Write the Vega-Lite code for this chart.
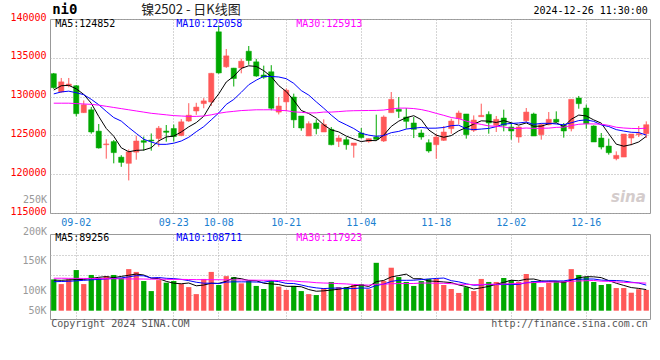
{
  "$schema": "https://vega.github.io/schema/vega-lite/v6.json",
  "autosize": {"type": "none"},
  "padding": {"left": 50, "top": 19, "right": 610, "bottom": 341},
  "background": "white",
  "spacing": 21,
  "bounds": "flush",
  "config": {
    "view": {"stroke": "#999", "strokeWidth": 1},
    "axis": {"labelFont": "DejaVu Sans Mono", "labelFontSize": 10, "tickSize": 0, "domain": false, "ticks": false, "labelOverlap": false}
  },
  "datasets": {
    "k": [
      {"d":"08-28","o":132950,"h":133050,"l":131000,"c":131150,"v":134000,"m5":130850,"m10":130350,"m30":129150,"vm5":131000,"vm10":124000,"vm30":139000},
      {"d":"08-29","o":130600,"h":132400,"l":130500,"c":131900,"v":114000,"m5":131400,"m10":130600,"m30":129150,"vm5":130000,"vm10":125000,"vm30":139000},
      {"d":"08-30","o":131400,"h":132400,"l":131200,"c":131620,"v":134000,"m5":131450,"m10":130700,"m30":129150,"vm5":132000,"vm10":126000,"vm30":138500},
      {"d":"09-02","o":131400,"h":131500,"l":127450,"c":127800,"v":174000,"m5":131000,"m10":130500,"m30":129100,"vm5":133000,"vm10":128000,"vm30":138500},
      {"d":"09-03","o":127930,"h":129500,"l":127900,"c":128950,"v":114000,"m5":130284,"m10":130250,"m30":129050,"vm5":134000,"vm10":130000,"vm30":138000},
      {"d":"09-04","o":128300,"h":128660,"l":125220,"c":125440,"v":153000,"m5":129142,"m10":129650,"m30":129000,"vm5":137800,"vm10":132000,"vm30":138000},
      {"d":"09-05","o":125550,"h":126470,"l":123300,"c":123380,"v":140000,"m5":127438,"m10":128950,"m30":128900,"vm5":143000,"vm10":134000,"vm30":137500},
      {"d":"09-06","o":123800,"h":124500,"l":122000,"c":123900,"v":148000,"m5":125894,"m10":128100,"m30":128750,"vm5":145800,"vm10":136000,"vm30":137000},
      {"d":"09-09","o":124200,"h":124400,"l":121400,"c":122780,"v":153000,"m5":124890,"m10":127300,"m30":128600,"vm5":141600,"vm10":138000,"vm30":137000},
      {"d":"09-10","o":122200,"h":122450,"l":120950,"c":121520,"v":140000,"m5":123404,"m10":126844,"m30":128450,"vm5":146800,"vm10":140400,"vm30":136500},
      {"d":"09-11","o":121400,"h":123200,"l":119200,"c":122880,"v":178000,"m5":122892,"m10":126017,"m30":128300,"vm5":151800,"vm10":144800,"vm30":136000},
      {"d":"09-12","o":122840,"h":124950,"l":121870,"c":124280,"v":166000,"m5":123072,"m10":125255,"m30":128150,"vm5":157000,"vm10":150000,"vm30":136000},
      {"d":"09-13","o":124320,"h":124850,"l":123030,"c":124110,"v":127000,"m5":123114,"m10":124504,"m30":128000,"vm5":152800,"vm10":149300,"vm30":135500},
      {"d":"09-18","o":124400,"h":125250,"l":123030,"c":124280,"v":84000,"m5":123414,"m10":124152,"m30":127850,"vm5":139000,"vm10":140300,"vm30":135000},
      {"d":"09-19","o":124600,"h":126210,"l":123550,"c":125930,"v":131000,"m5":124296,"m10":123850,"m30":127750,"vm5":137200,"vm10":142000,"vm30":135000},
      {"d":"09-20","o":125560,"h":126340,"l":124190,"c":125400,"v":120000,"m5":124800,"m10":123846,"m30":127650,"vm5":125600,"vm10":138700,"vm30":134500},
      {"d":"09-23","o":125890,"h":126400,"l":124200,"c":124850,"v":127000,"m5":124914,"m10":123993,"m30":127550,"vm5":117800,"vm10":137400,"vm30":134000},
      {"d":"09-24","o":124980,"h":127100,"l":124900,"c":126750,"v":114000,"m5":125442,"m10":124278,"m30":127500,"vm5":115200,"vm10":134000,"vm30":134000},
      {"d":"09-25","o":126850,"h":129150,"l":126750,"c":127600,"v":101000,"m5":126106,"m10":124760,"m30":127450,"vm5":118600,"vm10":128800,"vm30":133500},
      {"d":"09-26","o":128150,"h":129200,"l":127650,"c":128650,"v":71000,"m5":126650,"m10":125473,"m30":127450,"vm5":106600,"vm10":121900,"vm30":133000},
      {"d":"09-27","o":129100,"h":129800,"l":128500,"c":129450,"v":136000,"m5":127460,"m10":126130,"m30":127500,"vm5":109800,"vm10":117700,"vm30":133000},
      {"d":"09-30","o":129300,"h":133050,"l":128800,"c":133000,"v":166000,"m5":129090,"m10":127002,"m30":127650,"vm5":117600,"vm10":117700,"vm30":132500},
      {"d":"10-08","o":138350,"h":139150,"l":132950,"c":133050,"v":110000,"m5":130350,"m10":127896,"m30":127850,"vm5":116800,"vm10":116000,"vm30":132500},
      {"d":"10-09","o":133840,"h":136130,"l":133700,"c":135250,"v":148000,"m5":131880,"m10":128993,"m30":128000,"vm5":126200,"vm10":122400,"vm30":132000},
      {"d":"10-10","o":133670,"h":133700,"l":131300,"c":132330,"v":144000,"m5":132616,"m10":129633,"m30":128100,"vm5":140800,"vm10":123700,"vm30":132000},
      {"d":"10-11","o":133700,"h":134900,"l":133000,"c":134560,"v":117000,"m5":133638,"m10":130549,"m30":128200,"vm5":137000,"vm10":123400,"vm30":131500},
      {"d":"10-14","o":135850,"h":136520,"l":134100,"c":134650,"v":127000,"m5":133968,"m10":131529,"m30":128250,"vm5":129200,"vm10":123400,"vm30":131000},
      {"d":"10-15","o":134480,"h":134870,"l":132550,"c":132650,"v":106000,"m5":133888,"m10":132119,"m30":128300,"vm5":128400,"vm10":122600,"vm30":130500},
      {"d":"10-16","o":132780,"h":133990,"l":132300,"c":132500,"v":93000,"m5":133338,"m10":132609,"m30":128300,"vm5":117400,"vm10":121800,"vm30":130200},
      {"d":"10-17","o":133200,"h":134050,"l":128230,"c":128500,"v":131000,"m5":132572,"m10":132594,"m30":128304,"vm5":114800,"vm10":127800,"vm30":130000},
      {"d":"10-18","o":128000,"h":129930,"l":127700,"c":128790,"v":103000,"m5":131418,"m10":132528,"m30":128225,"vm5":112000,"vm10":124500,"vm30":129000},
      {"d":"10-21","o":129320,"h":131050,"l":128100,"c":130830,"v":89000,"m5":130654,"m10":132311,"m30":128189,"vm5":104400,"vm10":116800,"vm30":128200},
      {"d":"10-22","o":129950,"h":130380,"l":125950,"c":127000,"v":106000,"m5":129524,"m10":131706,"m30":128035,"vm5":104400,"vm10":116400,"vm30":127200},
      {"d":"10-23","o":127500,"h":127500,"l":125600,"c":125950,"v":84000,"m5":128214,"m10":130776,"m30":127974,"vm5":102600,"vm10":110000,"vm30":124200},
      {"d":"10-24","o":124920,"h":126810,"l":124920,"c":126510,"v":71000,"m5":127816,"m10":130194,"m30":127892,"vm5":90600,"vm10":102700,"vm30":122800},
      {"d":"10-25","o":126600,"h":127070,"l":125140,"c":125870,"v":67000,"m5":127232,"m10":129325,"m30":127907,"vm5":83400,"vm10":97700,"vm30":119900},
      {"d":"10-28","o":125440,"h":127070,"l":125440,"c":126420,"v":97000,"m5":126350,"m10":128502,"m30":128008,"vm5":85000,"vm10":94700,"vm30":118500},
      {"d":"10-29","o":125780,"h":126080,"l":123720,"c":123800,"v":123000,"m5":125710,"m10":127617,"m30":128005,"vm5":88400,"vm10":96400,"vm30":117700},
      {"d":"10-30","o":124230,"h":125010,"l":123500,"c":124660,"v":101000,"m5":125452,"m10":126833,"m30":128067,"vm5":91800,"vm10":97200,"vm30":115900},
      {"d":"10-31","o":124450,"h":124790,"l":123160,"c":123800,"v":101000,"m5":124910,"m10":126363,"m30":128143,"vm5":97800,"vm10":94200,"vm30":114600},
      {"d":"11-01","o":123720,"h":124020,"l":122130,"c":124020,"v":110000,"m5":124540,"m10":125886,"m30":128181,"vm5":106400,"vm10":94900,"vm30":112400},
      {"d":"11-04","o":125310,"h":125950,"l":124580,"c":124710,"v":114000,"m5":124198,"m10":125274,"m30":128196,"vm5":109800,"vm10":97400,"vm30":110600},
      {"d":"11-05","o":124230,"h":124600,"l":124060,"c":124580,"v":92000,"m5":124354,"m10":125032,"m30":128211,"vm5":103600,"vm10":96000,"vm30":109500},
      {"d":"11-06","o":124790,"h":127670,"l":124360,"c":124490,"v":205000,"m5":124320,"m10":124886,"m30":128218,"vm5":124400,"vm10":108100,"vm30":113500},
      {"d":"11-07","o":124280,"h":127580,"l":124150,"c":127370,"v":127000,"m5":125034,"m10":124972,"m30":128266,"vm5":129600,"vm10":113700,"vm30":113400},
      {"d":"11-08","o":127930,"h":130590,"l":127930,"c":129650,"v":184000,"m5":126160,"m10":125350,"m30":128408,"vm5":144400,"vm10":125400,"vm30":115500},
      {"d":"11-11","o":128360,"h":129950,"l":127240,"c":128100,"v":144000,"m5":126838,"m10":125518,"m30":128516,"vm5":150400,"vm10":130100,"vm30":116100},
      {"d":"11-12","o":127370,"h":128530,"l":125870,"c":126810,"v":123000,"m5":127284,"m10":125819,"m30":128518,"vm5":156600,"vm10":130100,"vm30":116400},
      {"d":"11-13","o":126600,"h":127370,"l":124660,"c":125780,"v":106000,"m5":127542,"m10":125931,"m30":128458,"vm5":136800,"vm10":130600,"vm30":116500},
      {"d":"11-14","o":125310,"h":125740,"l":124450,"c":124790,"v":127000,"m5":127026,"m10":126030,"m30":128329,"vm5":136800,"vm10":133200,"vm30":118400},
      {"d":"11-15","o":124060,"h":124490,"l":122770,"c":122990,"v":136000,"m5":125694,"m10":125927,"m30":128114,"vm5":127200,"vm10":135800,"vm30":118400},
      {"d":"11-18","o":123800,"h":125220,"l":122000,"c":124790,"v":136000,"m5":125032,"m10":125935,"m30":127840,"vm5":125600,"vm10":138000,"vm30":117400},
      {"d":"11-19","o":124360,"h":126210,"l":124280,"c":125440,"v":110000,"m5":124758,"m10":126021,"m30":127586,"vm5":123000,"vm10":139800,"vm30":117400},
      {"d":"11-20","o":125870,"h":127160,"l":125220,"c":126850,"v":93000,"m5":124972,"m10":126257,"m30":127306,"vm5":120400,"vm10":128600,"vm30":115600},
      {"d":"11-21","o":127160,"h":128190,"l":126420,"c":127890,"v":76000,"m5":125592,"m10":126309,"m30":127158,"vm5":110200,"vm10":123500,"vm30":113300},
      {"d":"11-22","o":127760,"h":127760,"l":124580,"c":125090,"v":101000,"m5":126012,"m10":125853,"m30":126843,"vm5":103200,"vm10":115200,"vm30":112800},
      {"d":"11-25","o":125650,"h":127580,"l":125440,"c":126980,"v":84000,"m5":126450,"m10":125741,"m30":126587,"vm5":92800,"vm10":109200,"vm30":111300},
      {"d":"11-26","o":127410,"h":129090,"l":127410,"c":127580,"v":136000,"m5":126878,"m10":125818,"m30":126418,"vm5":98000,"vm10":110500,"vm30":112300},
      {"d":"11-27","o":127710,"h":128100,"l":125220,"c":126600,"v":123000,"m5":126828,"m10":125900,"m30":126221,"vm5":104000,"vm10":112200,"vm30":113300},
      {"d":"11-28","o":126300,"h":127500,"l":125440,"c":127070,"v":123000,"m5":126664,"m10":126128,"m30":126174,"vm5":113400,"vm10":111800,"vm30":113100},
      {"d":"11-29","o":127240,"h":128320,"l":125520,"c":126300,"v":140000,"m5":126906,"m10":126459,"m30":126091,"vm5":121200,"vm10":112200,"vm30":114300},
      {"d":"12-02","o":126080,"h":126640,"l":124450,"c":125570,"v":131000,"m5":126624,"m10":126537,"m30":125915,"vm5":130600,"vm10":111700,"vm30":115700},
      {"d":"12-03","o":124790,"h":126210,"l":124060,"c":126080,"v":123000,"m5":126324,"m10":126601,"m30":125885,"vm5":128000,"vm10":113000,"vm30":116300},
      {"d":"12-04","o":126900,"h":128530,"l":126730,"c":128010,"v":157000,"m5":126606,"m10":126717,"m30":125953,"vm5":134800,"vm10":119400,"vm30":118700},
      {"d":"12-05","o":127760,"h":127930,"l":124920,"c":124920,"v":127000,"m5":126176,"m10":126420,"m30":125900,"vm5":135600,"vm10":124500,"vm30":120600},
      {"d":"12-06","o":125090,"h":126510,"l":124450,"c":126380,"v":101000,"m5":126192,"m10":126549,"m30":125917,"vm5":127800,"vm10":124500,"vm30":121700},
      {"d":"12-09","o":126380,"h":128010,"l":126300,"c":127070,"v":119000,"m5":126492,"m10":126558,"m30":125939,"vm5":125400,"vm10":128000,"vm30":122400},
      {"d":"12-10","o":127070,"h":128100,"l":126640,"c":126720,"v":127000,"m5":126620,"m10":126472,"m30":126036,"vm5":126200,"vm10":127100,"vm30":122600},
      {"d":"12-11","o":126300,"h":126600,"l":124710,"c":125570,"v":127000,"m5":126132,"m10":126369,"m30":126067,"vm5":120200,"vm10":127500,"vm30":123400},
      {"d":"12-12","o":125870,"h":129650,"l":125520,"c":129650,"v":178000,"m5":127078,"m10":126627,"m30":126262,"vm5":130400,"vm10":133000,"vm30":126000},
      {"d":"12-13","o":129820,"h":130080,"l":128440,"c":129090,"v":153000,"m5":127620,"m10":126906,"m30":126431,"vm5":140800,"vm10":134300,"vm30":127400},
      {"d":"12-16","o":128530,"h":128960,"l":125870,"c":126510,"v":144000,"m5":127508,"m10":127000,"m30":126491,"vm5":145800,"vm10":135600,"vm30":128400},
      {"d":"12-17","o":126210,"h":126300,"l":124150,"c":124150,"v":123000,"m5":126994,"m10":126807,"m30":126476,"vm5":145000,"vm10":135600,"vm30":129500},
      {"d":"12-18","o":124660,"h":125310,"l":123200,"c":123500,"v":110000,"m5":126580,"m10":126356,"m30":126443,"vm5":141600,"vm10":130900,"vm30":126300},
      {"d":"12-19","o":123630,"h":124580,"l":122520,"c":122770,"v":114000,"m5":125204,"m10":126141,"m30":126290,"vm5":128800,"vm10":129600,"vm30":125900},
      {"d":"12-20","o":122000,"h":122940,"l":121790,"c":122430,"v":97000,"m5":123872,"m10":125746,"m30":126049,"vm5":117600,"vm10":129200,"vm30":123000},
      {"d":"12-23","o":122210,"h":125180,"l":122210,"c":125180,"v":97000,"m5":123606,"m10":125557,"m30":125952,"vm5":108200,"vm10":127000,"vm30":121400},
      {"d":"12-24","o":124660,"h":125180,"l":123720,"c":125180,"v":77000,"m5":123812,"m10":125403,"m30":125898,"vm5":99000,"vm10":122000,"vm30":119900},
      {"d":"12-25","o":125090,"h":126210,"l":124790,"c":125220,"v":92000,"m5":124156,"m10":125368,"m30":125879,"vm5":95400,"vm10":118500,"vm30":119400},
      {"d":"12-26","o":125220,"h":126810,"l":124660,"c":126380,"v":89000,"m5":124878,"m10":125041,"m30":125932,"vm5":90400,"vm10":109600,"vm30":118100}
    ]
  },
  "vconcat": [
    {
      "width": 600,
      "height": 194,
      "data": {"name": "k"},
      "layer": [
        {
          "mark": {"type": "rule", "strokeWidth": 1},
          "encoding": {
            "x": {"field": "d", "type": "ordinal", "scale": {"paddingInner": 0.3, "paddingOuter": 0.15},
              "axis": {"title": null, "values": ["09-02","09-23","10-08","10-21","11-04","11-18","12-02","12-16"], "labelAngle": 0, "labelColor": "#1a80d0", "labelPadding": 4, "grid": true, "gridColor": "#aaa", "gridDash": [1, 2]}},
            "y": {"field": "l", "type": "quantitative", "scale": {"domain": [115000, 140000], "zero": false, "nice": false},
              "axis": {"title": null, "values": [115000,120000,125000,130000,135000,140000], "tickCount": 20, "format": "d", "labelColor": "#ff0000", "labelPadding": 4, "labelOffset": -2, "labelOverlap": false, "grid": true, "gridColor": "#aaa", "gridDash": [1, 2]}},
            "y2": {"field": "h"},
            "color": {"condition": {"test": "datum.c >= datum.o", "value": "#ff5858"}, "value": "#00a800"}
          }
        },
        {
          "mark": {"type": "bar", "strokeWidth": 0.5},
          "encoding": {
            "x": {"field": "d", "type": "ordinal"},
            "y": {"field": "o", "type": "quantitative", "scale": {"domain": [115000, 140000], "zero": false, "nice": false}},
            "y2": {"field": "c"},
            "color": {"condition": {"test": "datum.c >= datum.o", "value": "#ff5858"}, "value": "#00a800"},
            "stroke": {"condition": {"test": "datum.c >= datum.o", "value": "#ff5858"}, "value": "#00a800"}
          }
        },
        {
          "mark": {"type": "line", "color": "#000000", "strokeWidth": 1},
          "encoding": {
            "x": {"field": "d", "type": "ordinal"},
            "y": {"field": "m5", "type": "quantitative", "scale": {"domain": [115000, 140000], "zero": false, "nice": false}}
          }
        },
        {
          "mark": {"type": "line", "color": "#0000ff", "strokeWidth": 1},
          "encoding": {
            "x": {"field": "d", "type": "ordinal"},
            "y": {"field": "m10", "type": "quantitative", "scale": {"domain": [115000, 140000], "zero": false, "nice": false}}
          }
        },
        {
          "mark": {"type": "line", "color": "#ff00ff", "strokeWidth": 1},
          "encoding": {
            "x": {"field": "d", "type": "ordinal"},
            "y": {"field": "m30", "type": "quantitative", "scale": {"domain": [115000, 140000], "zero": false, "nice": false}}
          }
        },
        {
          "data": {"values": [{}]},
          "mark": {"type": "text", "align": "left", "baseline": "middle", "font": "DejaVu Sans Mono", "fontSize": 10, "color": "#000000", "dx": 4},
          "encoding": {
            "x": {"datum": "08-28", "type": "ordinal", "bandPosition": 0},
            "y": {"datum": 139400, "type": "quantitative", "scale": {"domain": [115000, 140000], "zero": false, "nice": false}},
            "text": {"value": "MA5:124852"}
          }
        },
        {
          "data": {"values": [{}]},
          "mark": {"type": "text", "align": "left", "baseline": "middle", "font": "DejaVu Sans Mono", "fontSize": 10, "color": "#0000ff", "dx": 5},
          "encoding": {
            "x": {"datum": "09-23", "type": "ordinal", "bandPosition": 0},
            "y": {"datum": 139400, "type": "quantitative", "scale": {"domain": [115000, 140000], "zero": false, "nice": false}},
            "text": {"value": "MA10:125058"}
          }
        },
        {
          "data": {"values": [{}]},
          "mark": {"type": "text", "align": "left", "baseline": "middle", "font": "DejaVu Sans Mono", "fontSize": 10, "color": "#ff00ff", "dx": 5},
          "encoding": {
            "x": {"datum": "10-22", "type": "ordinal", "bandPosition": 0},
            "y": {"datum": 139400, "type": "quantitative", "scale": {"domain": [115000, 140000], "zero": false, "nice": false}},
            "text": {"value": "MA30:125913"}
          }
        },
        {
          "data": {"values": [{}]},
          "mark": {"type": "text", "align": "left", "baseline": "middle", "font": "DejaVu Sans Mono", "fontSize": 14, "fontWeight": "bold", "color": "#000000", "dx": 1},
          "encoding": {
            "x": {"datum": "08-28", "type": "ordinal", "bandPosition": 0},
            "y": {"datum": 141150, "type": "quantitative", "scale": {"domain": [115000, 140000], "zero": false, "nice": false}},
            "text": {"value": "ni0"}
          }
        },
        {
          "data": {"values": [{}]},
          "mark": {"type": "text", "align": "left", "baseline": "middle", "font": "Noto Sans CJK SC", "fontSize": 13, "color": "#222222"},
          "encoding": {
            "x": {"datum": "09-13", "type": "ordinal", "bandPosition": 0},
            "y": {"datum": 141100, "type": "quantitative", "scale": {"domain": [115000, 140000], "zero": false, "nice": false}},
            "text": {"value": "镍2502 - 日K线图"}
          }
        },
        {
          "data": {"values": [{}]},
          "mark": {"type": "text", "align": "right", "baseline": "middle", "font": "DejaVu Sans Mono", "fontSize": 10, "color": "#000000", "dx": -1},
          "encoding": {
            "x": {"datum": "12-26", "type": "ordinal", "bandPosition": 1},
            "y": {"datum": 141000, "type": "quantitative", "scale": {"domain": [115000, 140000], "zero": false, "nice": false}},
            "text": {"value": "2024-12-26 11:30:00"}
          }
        },
        {
          "data": {"values": [{}]},
          "mark": {"type": "text", "align": "right", "baseline": "middle", "font": "DejaVu Sans Mono", "fontSize": 10, "color": "#999999", "dx": -4},
          "encoding": {
            "x": {"datum": "08-28", "type": "ordinal", "bandPosition": 0},
            "y": {"datum": 116675, "type": "quantitative", "scale": {"domain": [115000, 140000], "zero": false, "nice": false}},
            "text": {"value": "250K"}
          }
        },
        {
          "data": {"values": [{}]},
          "mark": {"type": "text", "align": "right", "baseline": "middle", "font": "DejaVu Sans", "fontSize": 15, "fontWeight": "bold", "fontStyle": "italic", "color": "#d4cccc", "dx": -3},
          "encoding": {
            "x": {"datum": "12-26", "type": "ordinal", "bandPosition": 1},
            "y": {"datum": 117000, "type": "quantitative", "scale": {"domain": [115000, 140000], "zero": false, "nice": false}},
            "text": {"value": "sina"}
          }
        }
      ]
    },
    {
      "width": 600,
      "height": 85,
      "data": {"name": "k"},
      "resolve": {"axis": {"y": "independent"}},
      "layer": [
        {
          "mark": {"type": "bar"},
          "encoding": {
            "x": {"field": "d", "type": "ordinal", "scale": {"paddingInner": 0.3, "paddingOuter": 0.15},
              "axis": {"title": null, "values": ["09-02","09-23","10-08","10-21","11-04","11-18","12-02","12-16"], "labels": false, "grid": true, "gridColor": "#aaa", "gridDash": [1, 2]}},
            "y": {"field": "v", "type": "quantitative", "scale": {"domain": [-35500, 328300], "zero": false, "nice": false},
              "axis": {"title": null, "orient": "left", "values": [67200, 152800, 238400], "tickCount": 20, "labels": false, "grid": true, "gridColor": "#aaa", "gridDash": [1, 2]}},
            "y2": {"datum": 0},
            "color": {"condition": {"test": "datum.c >= datum.o", "value": "#ff5858"}, "value": "#00a800"}
          }
        },
        {
          "mark": {"type": "line", "color": "#000000", "strokeWidth": 1},
          "encoding": {
            "x": {"field": "d", "type": "ordinal"},
            "y": {"field": "vm5", "type": "quantitative", "scale": {"domain": [-35500, 328300], "zero": false, "nice": false},
              "axis": {"title": null, "orient": "left", "values": [0, 85600, 214000], "tickCount": 20, "labelExpr": "datum.value < 40000 ? '50K' : datum.value < 150000 ? '100K' : '150K'", "labelColor": "#999999", "labelPadding": 4, "labelOverlap": false, "grid": false}}
          }
        },
        {
          "mark": {"type": "line", "color": "#0000ff", "strokeWidth": 1},
          "encoding": {
            "x": {"field": "d", "type": "ordinal"},
            "y": {"field": "vm10", "type": "quantitative", "scale": {"domain": [-35500, 328300], "zero": false, "nice": false}, "axis": null}
          }
        },
        {
          "mark": {"type": "line", "color": "#ff00ff", "strokeWidth": 1},
          "encoding": {
            "x": {"field": "d", "type": "ordinal"},
            "y": {"field": "vm30", "type": "quantitative", "scale": {"domain": [-35500, 328300], "zero": false, "nice": false}, "axis": null}
          }
        },
        {
          "data": {"values": [{}]},
          "mark": {"type": "text", "align": "right", "baseline": "middle", "font": "DejaVu Sans Mono", "fontSize": 10, "color": "#999999", "dx": -4},
          "encoding": {
            "x": {"datum": "08-28", "type": "ordinal", "bandPosition": 0},
            "y": {"datum": 336900, "type": "quantitative", "scale": {"domain": [-35500, 328300], "zero": false, "nice": false}, "axis": null},
            "text": {"value": "200K"}
          }
        },
        {
          "data": {"values": [{}]},
          "mark": {"type": "text", "align": "left", "baseline": "middle", "font": "DejaVu Sans Mono", "fontSize": 10, "color": "#000000", "dx": 4},
          "encoding": {
            "x": {"datum": "08-28", "type": "ordinal", "bandPosition": 0},
            "y": {"datum": 311000, "type": "quantitative", "scale": {"domain": [-35500, 328300], "zero": false, "nice": false}, "axis": null},
            "text": {"value": "MA5:89256"}
          }
        },
        {
          "data": {"values": [{}]},
          "mark": {"type": "text", "align": "left", "baseline": "middle", "font": "DejaVu Sans Mono", "fontSize": 10, "color": "#0000ff", "dx": 5},
          "encoding": {
            "x": {"datum": "09-23", "type": "ordinal", "bandPosition": 0},
            "y": {"datum": 311000, "type": "quantitative", "scale": {"domain": [-35500, 328300], "zero": false, "nice": false}, "axis": null},
            "text": {"value": "MA10:108711"}
          }
        },
        {
          "data": {"values": [{}]},
          "mark": {"type": "text", "align": "left", "baseline": "middle", "font": "DejaVu Sans Mono", "fontSize": 10, "color": "#ff00ff", "dx": 5},
          "encoding": {
            "x": {"datum": "10-22", "type": "ordinal", "bandPosition": 0},
            "y": {"datum": 311000, "type": "quantitative", "scale": {"domain": [-35500, 328300], "zero": false, "nice": false}, "axis": null},
            "text": {"value": "MA30:117923"}
          }
        },
        {
          "data": {"values": [{}]},
          "mark": {"type": "text", "align": "left", "baseline": "middle", "font": "DejaVu Sans Mono", "fontSize": 10, "color": "#555555"},
          "encoding": {
            "x": {"datum": "08-28", "type": "ordinal", "bandPosition": 0},
            "y": {"datum": -57000, "type": "quantitative", "scale": {"domain": [-35500, 328300], "zero": false, "nice": false}, "axis": null},
            "text": {"value": "Copyright 2024 SINA.COM"}
          }
        },
        {
          "data": {"values": [{}]},
          "mark": {"type": "text", "align": "right", "baseline": "middle", "font": "DejaVu Sans Mono", "fontSize": 10, "color": "#555555", "dx": -1},
          "encoding": {
            "x": {"datum": "12-26", "type": "ordinal", "bandPosition": 1},
            "y": {"datum": -57000, "type": "quantitative", "scale": {"domain": [-35500, 328300], "zero": false, "nice": false}, "axis": null},
            "text": {"value": "http://finance.sina.com.cn"}
          }
        }
      ]
    }
  ]
}
